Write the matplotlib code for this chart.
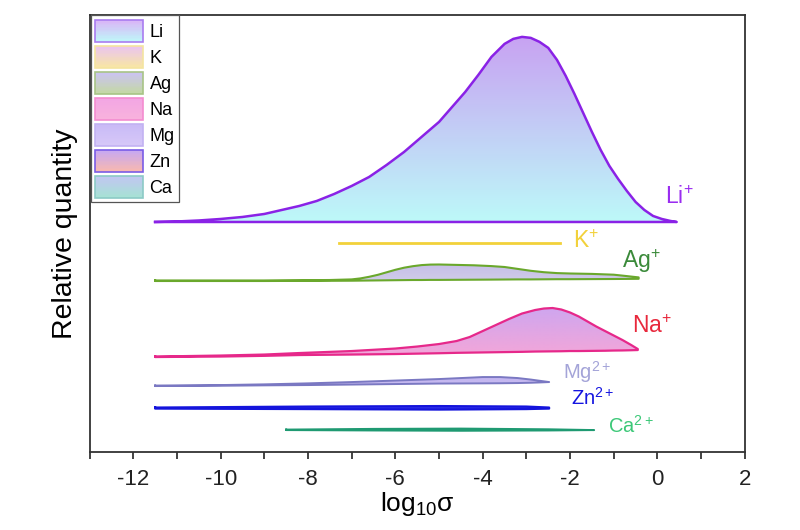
import numpy as np
import matplotlib
matplotlib.use("Agg")
import matplotlib.pyplot as plt
from matplotlib.colors import LinearSegmentedColormap, to_rgb
from matplotlib.patches import Rectangle
from matplotlib.legend_handler import HandlerBase

plt.rcParams['font.family'] = ['Liberation Sans', 'DejaVu Sans']
plt.rcParams['mathtext.fontset'] = 'custom'
plt.rcParams['mathtext.rm'] = 'Liberation Sans'
plt.rcParams['mathtext.it'] = 'Liberation Sans:italic'
plt.rcParams['axes.unicode_minus'] = False

# data (y = height above the bottom axis, arbitrary units)
li_x = [-11.5, -11.0, -10.5, -10.0, -9.5, -9.0, -8.6, -8.2, -7.8, -7.4, -7.0, -6.6, -6.2, -5.8,
        -5.4, -5.0, -4.7, -4.4, -4.1, -3.8, -3.5, -3.3, -3.1, -2.9, -2.7, -2.5, -2.3, -2.1,
        -1.9, -1.7, -1.5, -1.3, -1.1, -0.9, -0.7, -0.5, -0.3, -0.1, 0.1, 0.3, 0.44]
li_up = [230, 230.5, 231.5, 233, 235, 238, 242, 246, 251, 258, 266, 275, 287, 300,
         315, 330, 345, 360, 377, 395, 408, 413, 415, 414, 410, 404, 392, 376,
         358, 339, 320, 302, 286, 273, 261, 250, 242, 236, 233, 231, 230]
li_lo = [230] * len(li_x)

k_x = [-7.28, -2.23]
k_y = [209, 209]

ag_x = [-11.5, -9.0, -7.5, -7.0, -6.8, -6.6, -6.4, -6.2, -6.0, -5.8, -5.6, -5.4, -5.2, -5.0,
        -4.6, -4.2, -3.8, -3.5, -3.2, -2.9, -2.6, -2.3, -2.0, -1.5, -1.0, -0.7, -0.43]
ag_up = [171.5, 171.5, 172, 172.6, 173.6, 175.2, 177.2, 179.7, 182.2, 184.3, 185.8, 186.9, 187.4, 187.5,
         187.1, 186.7, 185.9, 185, 183.1, 181.2, 179.8, 178.9, 178.5, 178.1, 177.3, 175.9, 174.6]
ag_lo = [171, 171, 171.2, 171.3, 171.4, 171.5, 171.6, 171.7, 171.8, 171.9, 172, 172, 172.1, 172.1,
         172.2, 172.3, 172.4, 172.5, 172.6, 172.6, 172.7, 172.8, 172.8, 172.9, 173, 173.1, 173.2]

na_x = [-11.5, -10.0, -9.0, -8.2, -7.0, -6.0, -5.5, -5.0, -4.6, -4.3, -4.0, -3.7, -3.4, -3.1,
        -2.8, -2.6, -2.4, -2.2, -2.0, -1.8, -1.6, -1.4, -1.2, -1.0, -0.8, -0.6, -0.45]
na_up = [95.5, 96.5, 97.5, 99, 101, 103.5, 105.5, 108, 111, 115, 121, 127, 133, 138.5,
         142, 143.5, 144, 142.5, 139.5, 135.5, 130.5, 125.5, 121, 116.5, 112, 107, 103]
na_lo = [95, 95.5, 96.2, 97, 97.5, 98, 98.4, 98.8, 99.2, 99.4, 99.6, 99.8, 100, 100.2,
         100.5, 100.6, 100.7, 100.8, 101, 101, 101.1, 101.2, 101.3, 101.5, 101.6, 101.8, 102]

mg_x = [-11.5, -10.0, -9.0, -8.0, -7.0, -6.0, -5.0, -4.5, -4.0, -3.6, -3.2, -2.9, -2.7, -2.48]
mg_up = [66.5, 67, 67.7, 68.7, 70, 71.5, 73, 74, 75, 75, 74, 72.5, 71.3, 70]
mg_lo = [66, 66.3, 66.7, 67, 67.5, 68, 68.5, 68.6, 68.7, 68.8, 69, 69.3, 69.6, 70]

zn_x = [-11.5, -8.0, -5.0, -3.0, -2.48]
zn_up = [44.5, 45.5, 46, 45.5, 44.5]
zn_lo = [43.5, 43, 42.5, 43, 43.5]

ca_x = [-8.5, -6.5, -4.5, -2.5, -1.45]
ca_up = [22.5, 23.2, 23.5, 22.8, 22]
ca_lo = [22, 21.6, 21.3, 21.6, 22]

legend_names = ["Li", "K", "Ag", "Na", "Mg", "Zn", "Ca"]
legend_top = ["#dab4f7", "#eac4f0", "#cbc3f3", "#f3a6e4", "#c9baf6", "#c6a8f2", "#c2c6f2"]
legend_bot = ["#bff6f8", "#f8e6a4", "#c4d8a4", "#f8b2dc", "#d6c8f8", "#f8b8b0", "#a6e2d4"]
legend_edge = ["#a97cf0", "#f4e4a0", "#a8c486", "#f48cd0", "#c2b2f2", "#7a5ce6", "#8ccac6"]

fig = plt.figure(figsize=(8, 5.3), dpi=100)
ax = fig.add_axes([0.112, 0.147, 0.819, 0.824])


def gradient_fill(x, lo, up, top, bottom, edge, lw):
    poly = ax.fill_between(x, lo, up, facecolor='none', edgecolor='none')
    cmap = LinearSegmentedColormap.from_list('g', [bottom, top])
    grad = np.linspace(0, 1, 256)[:, None]
    im = ax.imshow(grad, cmap=cmap, aspect='auto', origin='lower',
                   extent=[x[0], x[-1], min(lo), max(up)], zorder=2, interpolation='bilinear')
    im.set_clip_path(poly.get_paths()[0], ax.transData)
    ax.plot(list(x) + list(x[::-1]) + [x[0]], list(up) + list(lo[::-1]) + [up[0]],
            color=edge, lw=lw, zorder=3, solid_joinstyle='round')


gradient_fill(li_x, li_lo, li_up, "#c8a2f2", "#bdf9f9", "#8a22e6", 1.8)
gradient_fill(ag_x, ag_lo, ag_up, "#c6bde8", "#d0cde8", "#6aa82c", 1.5)
gradient_fill(na_x, na_lo, na_up, "#cea6f0", "#f4a6d8", "#e6288a", 1.6)
gradient_fill(mg_x, mg_lo, mg_up, "#c2b4f0", "#c8bcf0", "#7a78c2", 1.4)
gradient_fill(zn_x, zn_lo, zn_up, "#3030e8", "#3030e8", "#1414dc", 1.6)
gradient_fill(ca_x, ca_lo, ca_up, "#2a9e78", "#2a9e78", "#1f9a72", 1.4)
ax.plot(k_x, k_y, color="#f2d13a", lw=2, zorder=3)

# ion labels
ax.text(0.17, 248, "Li$^{+}$", color="#9a2cf0", fontsize=16.5)
ax.text(-1.94, 204, "K$^{+}$", color="#f2d13a", fontsize=16.5)
ax.text(-0.8, 184, "Ag$^{+}$", color="#3b8a3a", fontsize=16.5)
ax.text(-0.58, 119, "Na$^{+}$", color="#e8283c", fontsize=16.5)
ax.text(-2.17, 73, "Mg$^{2+}$", color="#a4a4d8", fontsize=14.5)
ax.text(-1.98, 47, "Zn$^{2+}$", color="#1515e0", fontsize=14.5)
ax.text(-1.13, 19, "Ca$^{2+}$", color="#3cc878", fontsize=14.5)

ax.set_xlim(-13, 2)
ax.set_ylim(0, 436.5)
ax.set_xticks(range(-12, 3, 2))
ax.set_xticks(range(-13, 3, 2), minor=True)
ax.set_yticks([])
ax.tick_params(axis='x', which='both', direction='out', length=5, width=1.2,
               labelsize=16, colors='#222222', pad=7)
for s in ax.spines.values():
    s.set_linewidth(1.3)
    s.set_color('#333333')
ax.set_xlabel("log$_{10}$σ", fontsize=19, labelpad=0)
ax.set_ylabel("Relative quantity", fontsize=20.5, labelpad=8)


class GradKey:
    def __init__(self, top, bot, edge):
        self.top, self.bot, self.edge = top, bot, edge


class GradHandler(HandlerBase):
    def create_artists(self, legend, h, xd, yd, width, height, fontsize, trans):
        arts = []
        n = 16
        t, b = np.array(to_rgb(h.top)), np.array(to_rgb(h.bot))
        for i in range(n):
            f = i / (n - 1)
            c = b * (1 - f) + t * f
            arts.append(Rectangle((-xd, -yd + height * i / n), width, height / n * 1.05,
                                  facecolor=c, edgecolor='none', transform=trans))
        arts.append(Rectangle((-xd, -yd), width, height, facecolor='none',
                              edgecolor=h.edge, lw=1.2, transform=trans))
        return arts


keys = [GradKey(t, b, e) for t, b, e in zip(legend_top, legend_bot, legend_edge)]
leg = ax.legend(keys, legend_names, handler_map={GradKey: GradHandler()},
                loc='upper left', bbox_to_anchor=(0.002, 1.0), fontsize=13,
                handlelength=2.65, handleheight=1.5, labelspacing=0.22,
                handletextpad=0.35, borderpad=0.25, borderaxespad=0,
                fancybox=False, framealpha=1, edgecolor='#555555')
leg.get_frame().set_linewidth(0.9)

fig.savefig("out.png", dpi=100)
